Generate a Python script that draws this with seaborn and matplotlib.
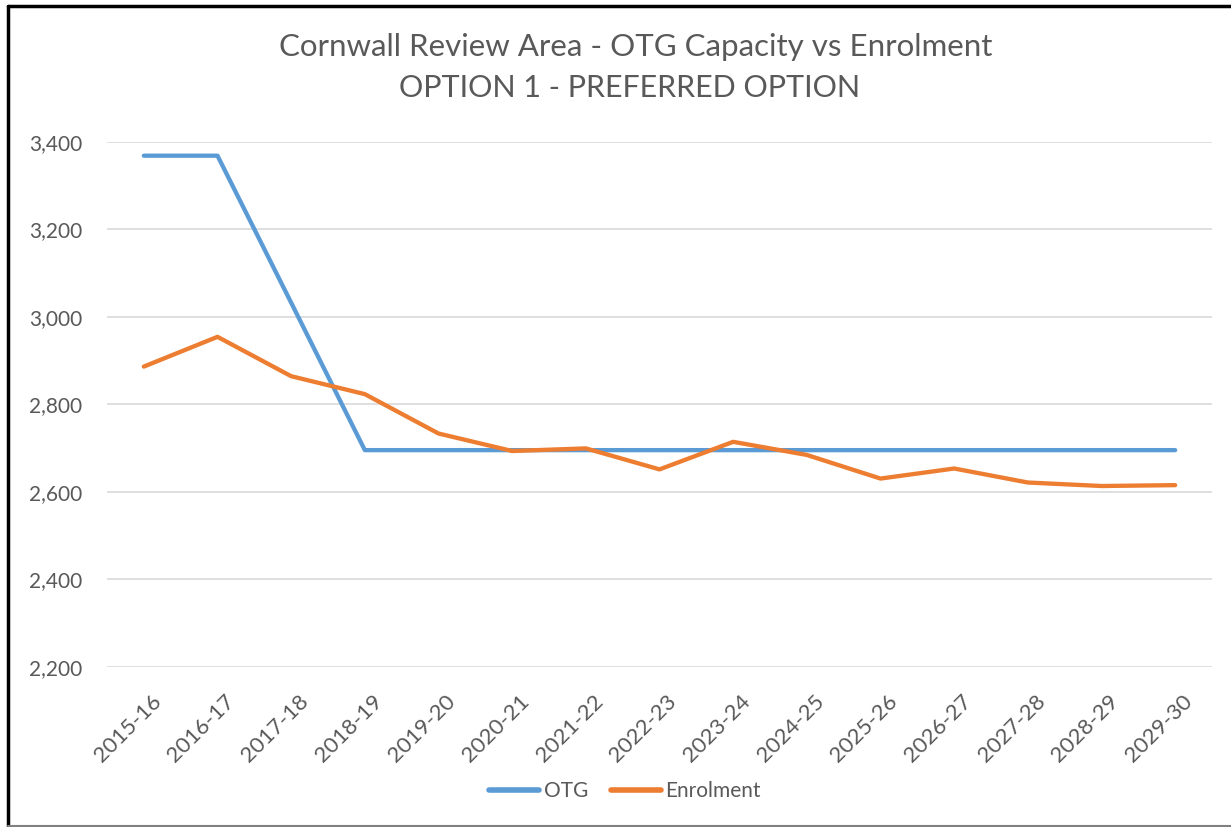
import pandas as pd
import matplotlib.pyplot as plt
import matplotlib.transforms as mtransforms
import seaborn as sns
from matplotlib.lines import Line2D

# Data
years = ['2015-16', '2016-17', '2017-18', '2018-19', '2019-20', '2020-21', '2021-22',
         '2022-23', '2023-24', '2024-25', '2025-26', '2026-27', '2027-28', '2028-29', '2029-30']
otg = [3368, 3368, 3032, 2695, 2695, 2695, 2695, 2695, 2695, 2695, 2695, 2695, 2695, 2695, 2695]
enrolment = [2886, 2954, 2864, 2823, 2733, 2693, 2699, 2651, 2714, 2684, 2630, 2653, 2621, 2613, 2615]
y_ticks = [2200, 2400, 2600, 2800, 3000, 3200, 3400]

df = pd.DataFrame({
    'Year': years * 2,
    'Value': otg + enrolment,
    'Series': ['OTG'] * len(years) + ['Enrolment'] * len(years),
})

sns.set_theme(style="white")
plt.rcParams['font.family'] = ['Lato', 'DejaVu Sans']
text_color = '#595959'

fig = plt.figure(figsize=(12.31, 8.27), dpi=100)
ax = fig.add_axes([107 / 1231, 1 - 666.7 / 827, 1105 / 1231, 525 / 827])

sns.lineplot(data=df, x='Year', y='Value', hue='Series',
             palette={'OTG': '#5B9BD5', 'Enrolment': '#ED7D31'},
             linewidth=3.1, ax=ax, legend=False, sort=False)

ax.set_xlim(-0.5, len(years) - 0.5)
ax.set_ylim(y_ticks[0], y_ticks[-1])
ax.set_yticks(y_ticks)
ax.set_yticklabels([f'{v:,}' for v in y_ticks])
ax.set_xticks(range(len(years)))
ax.set_xticklabels(years, rotation=45, ha='right', rotation_mode='anchor')
ax.tick_params(axis='both', length=0, labelsize=15, colors=text_color)
ax.tick_params(axis='x', labelsize=16, pad=12)
ax.tick_params(axis='y', pad=18)
ax.set_xlabel('')
ax.set_ylabel('')
ax.grid(axis='y', color='#D9D9D9', linewidth=1.2)
ax.grid(axis='x', visible=False)
for s in ax.spines.values():
    s.set_visible(False)

# nudge rotated year labels to sit like the original
offset = mtransforms.ScaledTranslation(7 / 100, -8 / 100, fig.dpi_scale_trans)
for lbl in ax.get_xticklabels():
    lbl.set_transform(lbl.get_transform() + offset)

# Title (two lines)
fig.text(636 / 1231, 1 - 47 / 827, 'Cornwall Review Area - OTG Capacity vs Enrolment',
         ha='center', va='center', fontsize=22.5, color=text_color)
fig.text(630 / 1231, 1 - 88 / 827, 'OPTION 1 - PREFERRED OPTION',
         ha='center', va='center', fontsize=22, color=text_color)

# Legend at bottom
handles = [Line2D([], [], color='#5B9BD5', linewidth=4, solid_capstyle='round'),
           Line2D([], [], color='#ED7D31', linewidth=4, solid_capstyle='round')]
fig.legend(handles, ['OTG', 'Enrolment'], loc='center', ncol=2,
           bbox_to_anchor=(625 / 1231, 1 - 791 / 827), frameon=False,
           fontsize=15, labelcolor=text_color, handlelength=2.4,
           handletextpad=0.2, columnspacing=1.1)

# Chart border lines (as in the screenshot)
fig.add_artist(Line2D([8 / 1231, 1], [1 - 6 / 827, 1 - 6 / 827], color='black', linewidth=2.5,
                      transform=fig.transFigure))
fig.add_artist(Line2D([8 / 1231, 8 / 1231], [1 - 6 / 827, 0], color='black', linewidth=2.5,
                      transform=fig.transFigure))
fig.add_artist(Line2D([8 / 1231, 1], [1 / 827, 1 / 827], color='#808080', linewidth=1.5,
                      transform=fig.transFigure))

fig.savefig('out.png', dpi=100)
